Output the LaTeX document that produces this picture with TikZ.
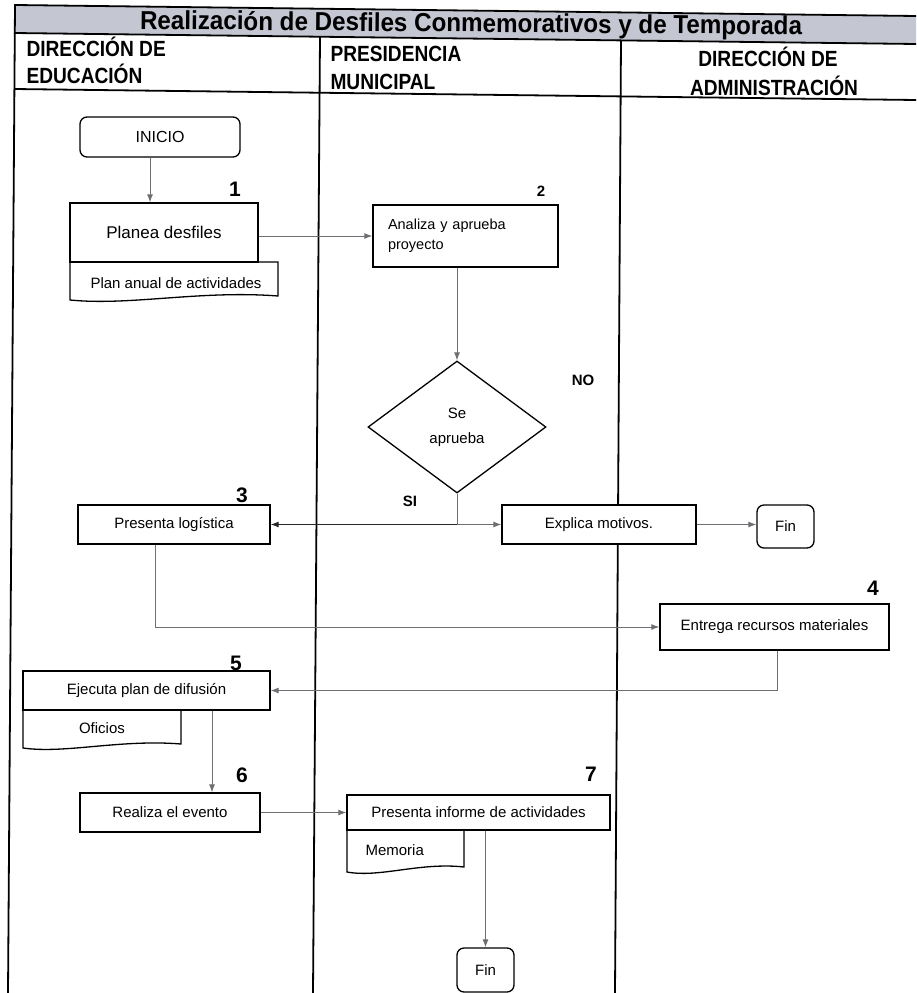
\documentclass[tikz,border=0pt]{standalone}
\usepackage{fontspec}
\setmainfont{Liberation Sans}
\newfontfamily\narrowsans[FakeStretch=0.87]{Liberation Sans}
\newfontfamily\titlesans[FakeStretch=0.93]{Liberation Sans}
\usetikzlibrary{arrows.meta,shapes.geometric}
\definecolor{bandgray}{RGB}{196,198,210}
\definecolor{linegray}{RGB}{110,110,115}
\begin{document}
\begin{tikzpicture}[x=1pt,y=-1pt,
  frame/.style={line width=1.8pt, black},
  pbox/.style={draw, fill=white, line width=1.3pt, rectangle, inner sep=0pt, font=\fontsize{15}{18}\selectfont},
  term/.style={draw, fill=white, line width=1.3pt, rounded corners=7pt, inner sep=0pt, font=\fontsize{16}{18}\selectfont},
  docarea/.style={rectangle, inner sep=0pt, font=\fontsize{15}{18}\selectfont},
  docline/.style={line width=1.3pt, black},
  arr/.style={draw=linegray, line width=1pt, -{Latex[length=8pt,width=6pt]}},
  seg/.style={draw=linegray, line width=1pt},
  num/.style={font=\bfseries\fontsize{21}{22}\selectfont, anchor=base},
  hdr/.style={font=\narrowsans\bfseries\fontsize{22}{24}\selectfont, anchor=base west},
  lab/.style={font=\bfseries\fontsize{15}{16}\selectfont, anchor=base}]
\useasboundingbox (0,0) rectangle (916,993);
% ---- frame ----
\fill[bandgray] (15,5) -- (916,16) -- (916,44) -- (14,33) -- cycle;
\draw[frame] (916,16) -- (15,5) -- (8,993);
\draw[frame] (14,33) -- (916,44);
\draw[frame] (14,89) -- (916,100);
\draw[frame] (320,37) -- (313,993);
\draw[frame] (621,40) -- (615,993);
\node[font=\titlesans\bfseries\fontsize{26}{26}\selectfont, anchor=base, rotate=-0.5] (title) at (471,32) {Realización de Desfiles Conmemorativos y de Temporada};
\node[hdr] (h1a) at (23,56) {DIRECCIÓN DE};
\node[hdr] (h1b) at (23,83) {EDUCACIÓN};
\node[hdr] (h2a) at (327,61) {PRESIDENCIA};
\node[hdr] (h2b) at (327,89) {MUNICIPAL};
\node[hdr, anchor=base] (h3a) at (768,66) {DIRECCIÓN DE};
\node[hdr, anchor=base] (h3b) at (774,95) {ADMINISTRACIÓN};
% ---- documents (drawn under their boxes) ----
\node[docarea] (d1) at (174,281) {};
\draw[docline, fill=white] (70,262) -- (70,300) .. controls (130,306) and (200,290) .. (278,296) -- (278,262) -- cycle;
\node[font=\fontsize{15}{18}\selectfont] (d1t) at (176,283) {Plan anual de actividades};
\node[docarea] (d5) at (102,729) {};
\draw[docline, fill=white] (23,710) -- (23,748) .. controls (65,754) and (120,739) .. (181,744) -- (181,710) -- cycle;
\node[font=\fontsize{15}{18}\selectfont] (d5t) at (102,728) {Oficios};
\node[docarea] (d7) at (405.5,851) {};
\draw[docline, fill=white] (347,830) -- (347,872) .. controls (380,878) and (420,862) .. (464,867) -- (464,830) -- cycle;
\node[font=\fontsize{15}{18}\selectfont, anchor=west] (d7t) at (362,850) {Memoria};
% ---- boxes ----
\node[term, minimum width=160pt, minimum height=40pt] (inicio) at (160,137) {INICIO};
\node[pbox, minimum width=188pt, minimum height=59pt, font=\fontsize{17}{20}\selectfont] (p1) at (164,232.5) {Planea desfiles};
\node[pbox, minimum width=185pt, minimum height=62pt, text width=155pt, align=left, font=\fontsize{14.5}{20}\selectfont] (p2) at (465.5,236) {Analiza y aprueba\\proyecto};
\node[draw, fill=white, line width=1.3pt, diamond, minimum width=178pt, minimum height=132pt, inner sep=0pt, align=center, font=\fontsize{15}{25}\selectfont] (dia) at (457,427) {Se\\aprueba};
\node[pbox, minimum width=192pt, minimum height=39pt] (p3) at (174,524.5) {Presenta logística};
\node[pbox, minimum width=194pt, minimum height=39pt] (expl) at (599,524.5) {Explica motivos.};
\node[term, minimum width=57pt, minimum height=43pt, font=\fontsize{15}{18}\selectfont] (fin1) at (785.5,526.5) {Fin};
\node[pbox, minimum width=229pt, minimum height=46pt] (p4) at (774.5,627) {Entrega recursos materiales};
\node[pbox, minimum width=247pt, minimum height=39pt] (p5) at (146.5,690.5) {Ejecuta plan de difusión};
\node[pbox, minimum width=180pt, minimum height=39pt] (p6) at (170,812.5) {Realiza el evento};
\node[pbox, minimum width=263pt, minimum height=35pt] (p7) at (478.5,812.5) {Presenta informe de actividades};
\node[term, minimum width=57pt, minimum height=44pt, font=\fontsize{15}{18}\selectfont] (fin2) at (485.5,970) {Fin};
% ---- numbers and labels ----
\node[num] (n1) at (235,196) {1};
\node[num, font=\bfseries\fontsize{15}{16}\selectfont] (n2) at (541,196) {2};
\node[num] (n3) at (242,502) {3};
\node[num] (n4) at (873,595) {4};
\node[num] (n5) at (236,670) {5};
\node[num] (n6) at (242,782) {6};
\node[num] (n7) at (591,781) {7};
\node[lab] (no) at (583,385) {NO};
\node[lab] (si) at (410,506) {SI};
% ---- connectors ----
\draw[arr] ([xshift=-10pt]inicio.south) -- ([xshift=-10pt]inicio.south |- p1.north);
\draw[arr] (p2.west -| p1.east) -- (p2.west);
\draw[arr] (dia.north |- p2.south) -- (dia.north);
\coordinate (j) at (dia.south |- p3.east);
\draw[seg] (dia.south) -- (j);
\draw[arr, draw=black!85] (j) -- (p3.east);
\draw[arr] (j) -- (expl.west);
\draw[arr] (expl.east) -- (expl.east -| fin1.west);
\draw[arr] ([xshift=-19pt]p3.south) |- (p4.west);
\draw[arr] ([xshift=2.5pt]p4.south) |- (p5.east);
\draw[arr] ([xshift=65.5pt]p5.south) -- ([xshift=65.5pt]p5.south |- p6.north);
\draw[arr] (p6.east) -- (p6.east -| p7.west);
\draw[arr] (fin2.north |- p7.south) -- (fin2.north);
\end{tikzpicture}
\end{document}
